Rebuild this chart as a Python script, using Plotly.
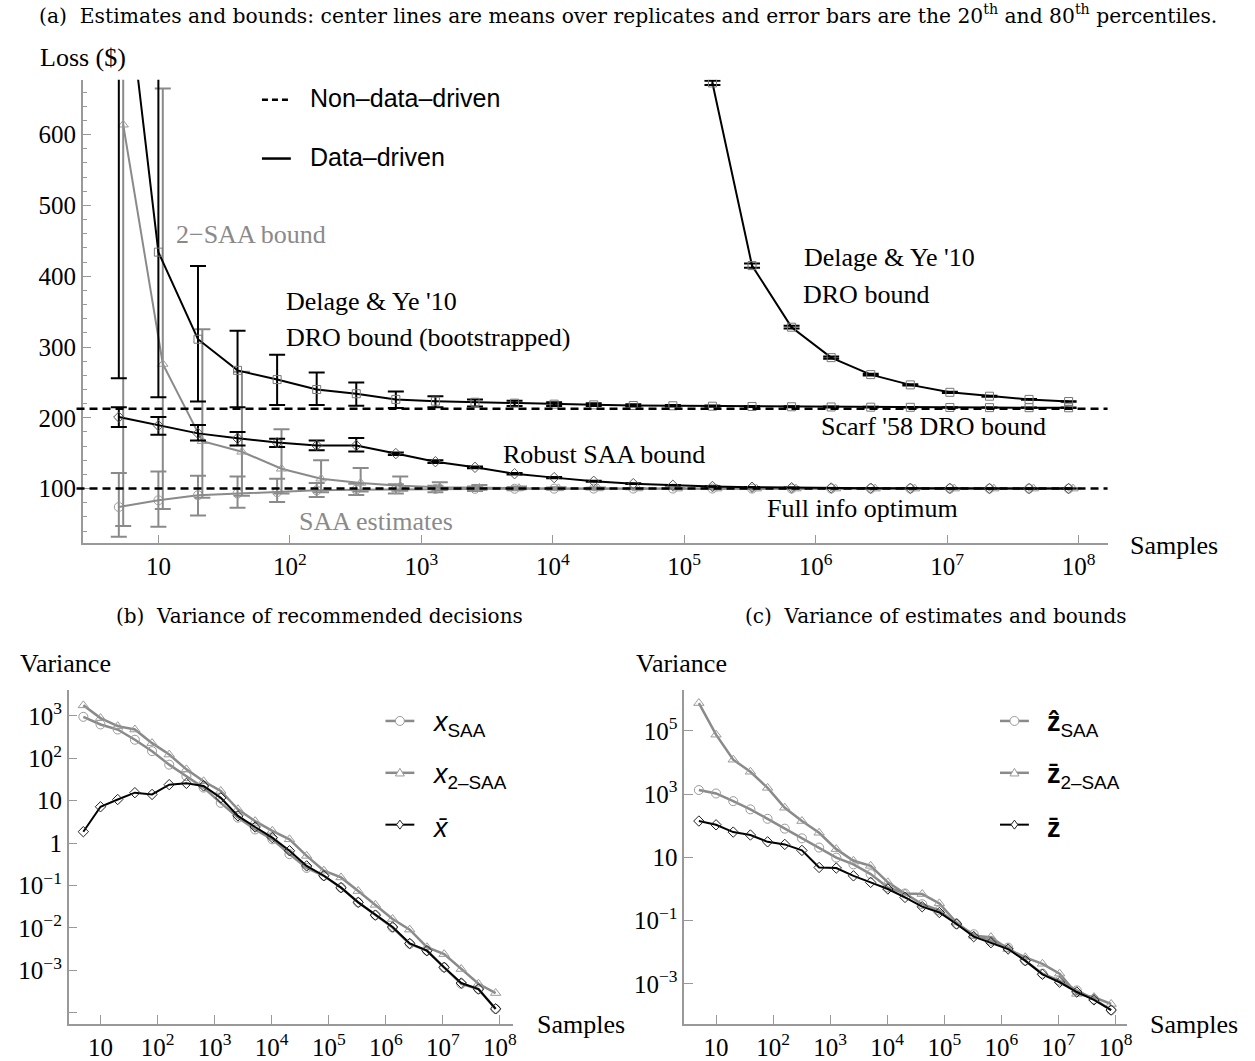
import plotly.graph_objects as go

W, H = 1255, 1061
def fx(p): return p / W
def fy(p): return 1 - p / H

# ---------------- data ----------------
samples = [5, 10, 20, 40, 80, 160, 320, 640, 1280, 2560, 5120, 10240, 20480, 40960,
           81920, 163840, 327680, 655360, 1310720, 2621440, 5242880, 10485760,
           20971520, 41943040, 83886080]

# Panel (a): losses ($)
saa_mean = [74, 83.5, 90.6, 93, 95, 97.5, 98.5, 99, 99.5, 99.7, 99.8, 99.9, 100, 100, 100,
            100, 100, 100, 100, 100, 100, 100, 100, 100, 100]
saa_lo = [32, 46, 62, 73, 81, 88, 91, 93, 95, 96.5, 97.5, 98.3, 98.8, 99.1, 99.4, 99.6,
          99.7, 99.8, 99.85, 99.9, 99.92, 99.94, 99.95, 99.96, 99.97]
saa_hi = [122, 124, 118, 117, 114, 108, 107, 106, 104, 103, 102.2, 101.6, 101.2, 100.9,
          100.6, 100.4, 100.3, 100.2, 100.15, 100.1, 100.08, 100.06, 100.05, 100.04, 100.03]

saa2_mean = [614, 276, 167, 152, 128, 114, 108, 104, 102, 101, 100.6, 100.3, 100.2, 100.1,
             100, 100, 100, 100, 100, 100, 100, 100, 100, 100, 100]
saa2_lo = [47, 71, 87, 90, 93, 95, 96, 97, 98, 98.5, 99, 99.3, 99.5, 99.6, 99.7, 99.8,
           99.85, 99.9, 99.9, 99.92, 99.94, 99.95, 99.96, 99.97, 99.98]
saa2_hi = [1000, 665, 325, 265, 184, 140, 129, 117, 109, 105, 103, 102, 101.5, 101,
           100.7, 100.5, 100.4, 100.3, 100.2, 100.15, 100.1, 100.08, 100.06, 100.05, 100.04]

dyb_mean = [910, 434, 311, 267, 254, 240, 234, 226, 223.5, 222, 220.7, 219.3, 218.3, 217.4,
            217, 216.4, 216, 215.6, 215.3, 215, 214.8, 214.6, 214.4, 214.3, 214.2]
dyb_lo = [256, 229, 223, 215, 218, 218, 217, 214, 215, 216, 216.5, 216.5, 216.5, 216,
          216, 215.5, 215.2, 214.9, 214.7, 214.5, 214.4, 214.3, 214.2, 214.1, 214.0]
dyb_hi = [1400, 1000, 414.5, 323, 289, 264, 250, 237, 230.5, 226, 224, 222, 220.5, 219,
          218.2, 217.4, 216.8, 216.3, 215.9, 215.5, 215.2, 214.9, 214.6, 214.5, 214.4]

rsaa_mean = [201, 189, 178, 171, 165, 161, 161, 149.5, 138, 130, 121, 115.5, 110.3, 107,
             104.7, 103, 102, 101.3, 100.9, 100.6, 100.4, 100.3, 100.2, 100.1, 100.1]
rsaa_lo = [187, 176, 168, 161, 158.7, 154, 152.5, 147.6, 136, 128.7, 120, 114.7, 109.6,
           106.5, 104.3, 102.7, 101.8, 101.1, 100.8, 100.5, 100.35, 100.25, 100.15, 100.08, 100.06]
rsaa_hi = [215, 201, 190, 180, 170.4, 168, 171.4, 151, 140, 131.3, 122, 116.3, 111,
           107.5, 105.1, 103.3, 102.2, 101.5, 101, 100.7, 100.45, 100.35, 100.25, 100.12, 100.14]

dy_samples = [163840, 327680, 655360, 1310720, 2621440, 5242880, 10485760, 20971520,
              41943040, 83886080]
dy_mean = [673, 415, 328, 285, 261, 246.5, 236, 230.5, 226, 223]
dy_lo = [670, 412, 326, 283.5, 259.8, 245.5, 235.2, 229.8, 225.4, 222.5]
dy_hi = [676, 418, 330, 286.5, 262.2, 247.5, 236.8, 231.2, 226.6, 223.5]

scarf_bound = 212.7
full_info_opt = 100

# Panel (b): variance of decisions
var_x_saa = [955, 631, 479, 275, 148, 71, 38, 20.4, 8.9, 4.0, 2.1, 1.23, 0.55, 0.26, 0.17,
             0.089, 0.040, 0.020, 0.0102, 0.0042, 0.0029, 0.00117, 0.00048, 0.00036, 0.000123]
var_x_2saa = [1780, 890, 575, 479, 229, 123, 55, 28.8, 17, 6.3, 3.3, 1.95, 1.23, 0.50, 0.224,
              0.155, 0.074, 0.035, 0.0162, 0.0091, 0.0035, 0.0024, 0.00107, 0.00048, 0.00029]
var_x_bar = [1.86, 7.2, 10.7, 15.5, 14.1, 24, 25.7, 22.4, 11.7, 4.4, 2.4, 1.35, 0.66, 0.29,
             0.17, 0.089, 0.040, 0.020, 0.0105, 0.0043, 0.0029, 0.00117, 0.0005, 0.00036, 0.000123]

# Panel (c): variance of estimates and bounds
var_z_saa = [1350, 1050, 600, 330, 166, 81, 40, 20.4, 9.8, 6.0, 2.95, 1.12, 0.72, 0.33, 0.21,
             0.078, 0.037, 0.023, 0.014, 0.0054, 0.0021, 0.00126, 0.00062, 0.00033, 0.000148]
var_z_2saa = [760000, 76000, 12300, 5100, 1580, 372, 141, 60, 18.2, 7.8, 5.4, 1.62, 0.72, 0.69,
              0.35, 0.087, 0.033, 0.030, 0.0126, 0.0069, 0.0043, 0.0021, 0.00048, 0.00038, 0.00023]
var_z_bar = [141, 107, 63, 51, 31, 25.7, 16.6, 4.8, 4.6, 2.6, 1.62, 1.0, 0.54, 0.275, 0.18,
             0.078, 0.031, 0.020, 0.0126, 0.0054, 0.0020, 0.00112, 0.00055, 0.00031, 0.000148]

xticks_vals = [10, 100, 1e3, 1e4, 1e5, 1e6, 1e7, 1e8]
xticks_text = ["10", "10<sup>2</sup>", "10<sup>3</sup>", "10<sup>4</sup>", "10<sup>5</sup>",
               "10<sup>6</sup>", "10<sup>7</sup>", "10<sup>8</sup>"]
yticks_a = [100, 200, 300, 400, 500, 600]
yticks_b_vals = [1e3, 1e2, 10, 1, 0.1, 0.01, 1e-3, 1e-4]
yticks_b_text = ["10<sup>3</sup>", "10<sup>2</sup>", "10", "1", "10<sup>−1</sup>",
                 "10<sup>−2</sup>", "10<sup>−3</sup>", ""]
yticks_c_vals = [1e5, 1e3, 10, 0.1, 1e-3]
yticks_c_text = ["10<sup>5</sup>", "10<sup>3</sup>", "10", "10<sup>−1</sup>", "10<sup>−3</sup>"]

# ---------------- styling ----------------
GRAY = "#8a8a8a"
GRAY_M = "#9a9a9a"
BLACK = "#000000"
SERIF = "Liberation Serif"
TSERIF = "DejaVu Serif"
SANS = "Liberation Sans"
AXC = "#999999"

fig = go.Figure()

def err(mean, lo, hi, color):
    return dict(type="data", symmetric=False,
                array=[h - m for m, h in zip(mean, hi)],
                arrayminus=[m - l for m, l in zip(mean, lo)],
                color=color, thickness=2, width=8)

dodge = 1.08
fig.add_trace(go.Scatter(x=samples, y=saa_mean, mode="lines+markers", xaxis="x", yaxis="y",
                         line=dict(color=GRAY, width=2),
                         marker=dict(symbol="circle-open", size=9, color=GRAY_M, line=dict(width=1)),
                         error_y=err(saa_mean, saa_lo, saa_hi, GRAY), showlegend=False))
fig.add_trace(go.Scatter(x=[s * dodge for s in samples], y=saa2_mean, mode="lines+markers",
                         xaxis="x", yaxis="y", line=dict(color=GRAY, width=2),
                         marker=dict(symbol="triangle-up-open", size=9, color=GRAY_M, line=dict(width=1)),
                         error_y=err(saa2_mean, saa2_lo, saa2_hi, GRAY), showlegend=False))
fig.add_trace(go.Scatter(x=samples, y=dyb_mean, mode="lines+markers", xaxis="x", yaxis="y",
                         line=dict(color=BLACK, width=2),
                         marker=dict(symbol="square-open", size=8, color="#777", line=dict(width=1)),
                         error_y=err(dyb_mean, dyb_lo, dyb_hi, BLACK), showlegend=False))
fig.add_trace(go.Scatter(x=samples, y=rsaa_mean, mode="lines+markers", xaxis="x", yaxis="y",
                         line=dict(color=BLACK, width=2),
                         marker=dict(symbol="diamond-open", size=8, color="#555", line=dict(width=1)),
                         error_y=err(rsaa_mean, rsaa_lo, rsaa_hi, BLACK), showlegend=False))
fig.add_trace(go.Scatter(x=dy_samples, y=dy_mean, mode="lines+markers", xaxis="x", yaxis="y",
                         line=dict(color=BLACK, width=2),
                         marker=dict(symbol="square-open", size=8, color="#777", line=dict(width=1)),
                         error_y=err(dy_mean, dy_lo, dy_hi, BLACK), showlegend=False))

# panel (b)
fig.add_trace(go.Scatter(x=samples, y=var_x_saa, mode="lines+markers", xaxis="x2", yaxis="y2",
                         line=dict(color=GRAY, width=2.5), showlegend=False,
                         marker=dict(symbol="circle-open", size=9, color=GRAY_M, line=dict(width=1))))
fig.add_trace(go.Scatter(x=samples, y=var_x_2saa, mode="lines+markers", xaxis="x2", yaxis="y2",
                         line=dict(color=GRAY, width=2.5), showlegend=False,
                         marker=dict(symbol="triangle-up-open", size=9, color=GRAY_M, line=dict(width=1))))
fig.add_trace(go.Scatter(x=samples, y=var_x_bar, mode="lines+markers", xaxis="x2", yaxis="y2",
                         line=dict(color=BLACK, width=2), showlegend=False,
                         marker=dict(symbol="diamond-open", size=8, color="#222", line=dict(width=1))))

# panel (c)
fig.add_trace(go.Scatter(x=samples, y=var_z_saa, mode="lines+markers", xaxis="x3", yaxis="y3",
                         line=dict(color=GRAY, width=2.5), showlegend=False,
                         marker=dict(symbol="circle-open", size=9, color=GRAY_M, line=dict(width=1))))
fig.add_trace(go.Scatter(x=samples, y=var_z_2saa, mode="lines+markers", xaxis="x3", yaxis="y3",
                         line=dict(color=GRAY, width=2.5), showlegend=False,
                         marker=dict(symbol="triangle-up-open", size=9, color=GRAY_M, line=dict(width=1))))
fig.add_trace(go.Scatter(x=samples, y=var_z_bar, mode="lines+markers", xaxis="x3", yaxis="y3",
                         line=dict(color=BLACK, width=2), showlegend=False,
                         marker=dict(symbol="diamond-open", size=8, color="#222", line=dict(width=1))))

tickfont = dict(family=SERIF, size=25, color="black")
axis_common = dict(showgrid=False, zeroline=False, showline=True, linecolor=AXC, linewidth=1.5,
                   ticks="inside", ticklen=9, tickcolor=AXC, tickwidth=1, tickfont=tickfont)

fig.update_layout(
    width=W, height=H, margin=dict(l=0, r=0, t=0, b=0),
    paper_bgcolor="white", plot_bgcolor="white", showlegend=False,
    xaxis=dict(type="log", domain=[fx(83), fx(1112)], range=[0.424, 8.22], anchor="y",
               tickvals=xticks_vals, ticktext=xticks_text, **axis_common),
    yaxis=dict(domain=[fy(545), fy(80)], range=[22.5, 677.5], anchor="x",
               tickvals=yticks_a, minor=dict(ticks="inside", dtick=20, ticklen=5, tickcolor=AXC),
               **axis_common),
    xaxis2=dict(type="log", domain=[fx(69), fx(515)], range=[0.443, 8.227], anchor="y2",
                tickvals=xticks_vals, ticktext=xticks_text, **axis_common),
    yaxis2=dict(type="log", domain=[fy(1027), fy(692)], range=[-4.27, 3.612], anchor="x2",
                tickvals=yticks_b_vals, ticktext=yticks_b_text, **axis_common),
    xaxis3=dict(type="log", domain=[fx(687), fx(1132)], range=[0.443, 8.21], anchor="y3",
                tickvals=xticks_vals, ticktext=xticks_text, **axis_common),
    yaxis3=dict(type="log", domain=[fy(1027), fy(692)], range=[-4.274, 6.293], anchor="x3",
                tickvals=yticks_c_vals, ticktext=yticks_c_text, **axis_common),
)

# reference lines (non-data-driven)
for val in (scarf_bound, full_info_opt):
    fig.add_shape(type="line", xref="x domain", yref="y", x0=-0.006, x1=1, y0=val, y1=val,
                  line=dict(color=BLACK, width=2.5, dash="8px,5px"), layer="above")

def label(txt, px, py, size=26, color="black", family=SERIF, anchor="left"):
    fig.add_annotation(text=txt, x=fx(px), y=fy(py), xref="paper", yref="paper",
                       xanchor=anchor, yanchor="middle", showarrow=False,
                       font=dict(family=family, size=size, color=color))

# ---------- hand-drawn legend keys (paper coordinates) ----------
def key_line(x0, x1, y, color, width=2.5, dash=None):
    ln = dict(color=color, width=width)
    if dash:
        ln["dash"] = dash
    fig.add_shape(type="line", xref="paper", yref="paper", x0=fx(x0), x1=fx(x1),
                  y0=fy(y), y1=fy(y), line=ln)

def key_marker(kind, cx, cy, r, color):
    if kind == "circle":
        fig.add_shape(type="circle", xref="paper", yref="paper", x0=fx(cx - r), x1=fx(cx + r),
                      y0=fy(cy - r), y1=fy(cy + r), line=dict(color=color, width=1),
                      fillcolor="white")
        return
    if kind == "triangle":
        pts = [(cx, cy - r), (cx + r, cy + 0.7 * r), (cx - r, cy + 0.7 * r)]
    else:  # diamond
        pts = [(cx, cy - r), (cx + 0.75 * r, cy), (cx, cy + r), (cx - 0.75 * r, cy)]
    path = "M " + " L ".join(f"{fx(px):.5f},{fy(py):.5f}" for px, py in pts) + " Z"
    fig.add_shape(type="path", xref="paper", yref="paper", path=path,
                  line=dict(color=color, width=1), fillcolor="white")

# panel (a) legend
key_line(263, 292, 100, BLACK, 2.5, "6px,4px")
key_line(263, 292, 159, BLACK, 2.5)
label("Non–data–driven", 309, 98, size=25, family=SANS)
label("Data–driven", 309, 157, size=25, family=SANS)

# panel (b) legend
leg_b = [("circle", GRAY, GRAY_M, "<i>x</i><sub>SAA</sub>"),
         ("triangle", GRAY, GRAY_M, "<i>x</i><sub>2–SAA</sub>"),
         ("diamond", BLACK, "#222", "<i>x\u0304</i>")]
leg_c = [("circle", GRAY, GRAY_M, "<b>\u1e91</b><sub>SAA</sub>"),
         ("triangle", GRAY, GRAY_M, "<b>z\u0304</b><sub>2–SAA</sub>"),
         ("diamond", BLACK, "#222", "<b>z\u0304</b>")]
for (x0, tx), items in (((387, 432), leg_b), ((1004, 1049), leg_c)):
    for i, (kind, lc, mc, txt) in enumerate(items):
        yy = 723 + 52 * i
        key_line(x0, x0 + 29, yy, lc, 2.5 if lc == GRAY else 2)
        key_marker(kind, x0 + 14.5, yy, 4.5, mc)
        label(txt, tx, yy + 3, size=27, family=SANS)

# panel (a) labels
label("Loss ($)", 38, 58)
label("Samples", 1133, 547)
label("2−SAA bound", 175, 235, color=GRAY)
label("Delage &amp; Ye '10", 285, 302)
label("DRO bound (bootstrapped)", 285, 338)
label("Delage &amp; Ye '10", 805, 258)
label("DRO bound", 804, 295)
label("Scarf '58 DRO bound", 822, 428)
label("Robust SAA bound", 503, 456)
label("Full info optimum", 768, 510)
label("SAA estimates", 298, 523, color=GRAY)

# panels (b), (c) labels
label("Variance", 18, 665)
label("Variance", 637, 665)
label("Samples", 537, 1027)
label("Samples", 1153, 1027)

# titles
label("(a)  Estimates and bounds: center lines are means over replicates and error bars are the 20<sup>th</sup> and 80<sup>th</sup> percentiles.",
      631, 15, size=20.3, family=TSERIF, anchor="center")
label("(b)  Variance of recommended decisions", 321, 618, size=20, family=TSERIF, anchor="center")
label("(c)  Variance of estimates and bounds", 940, 618, size=20, family=TSERIF, anchor="center")

fig.write_html("out.html")
